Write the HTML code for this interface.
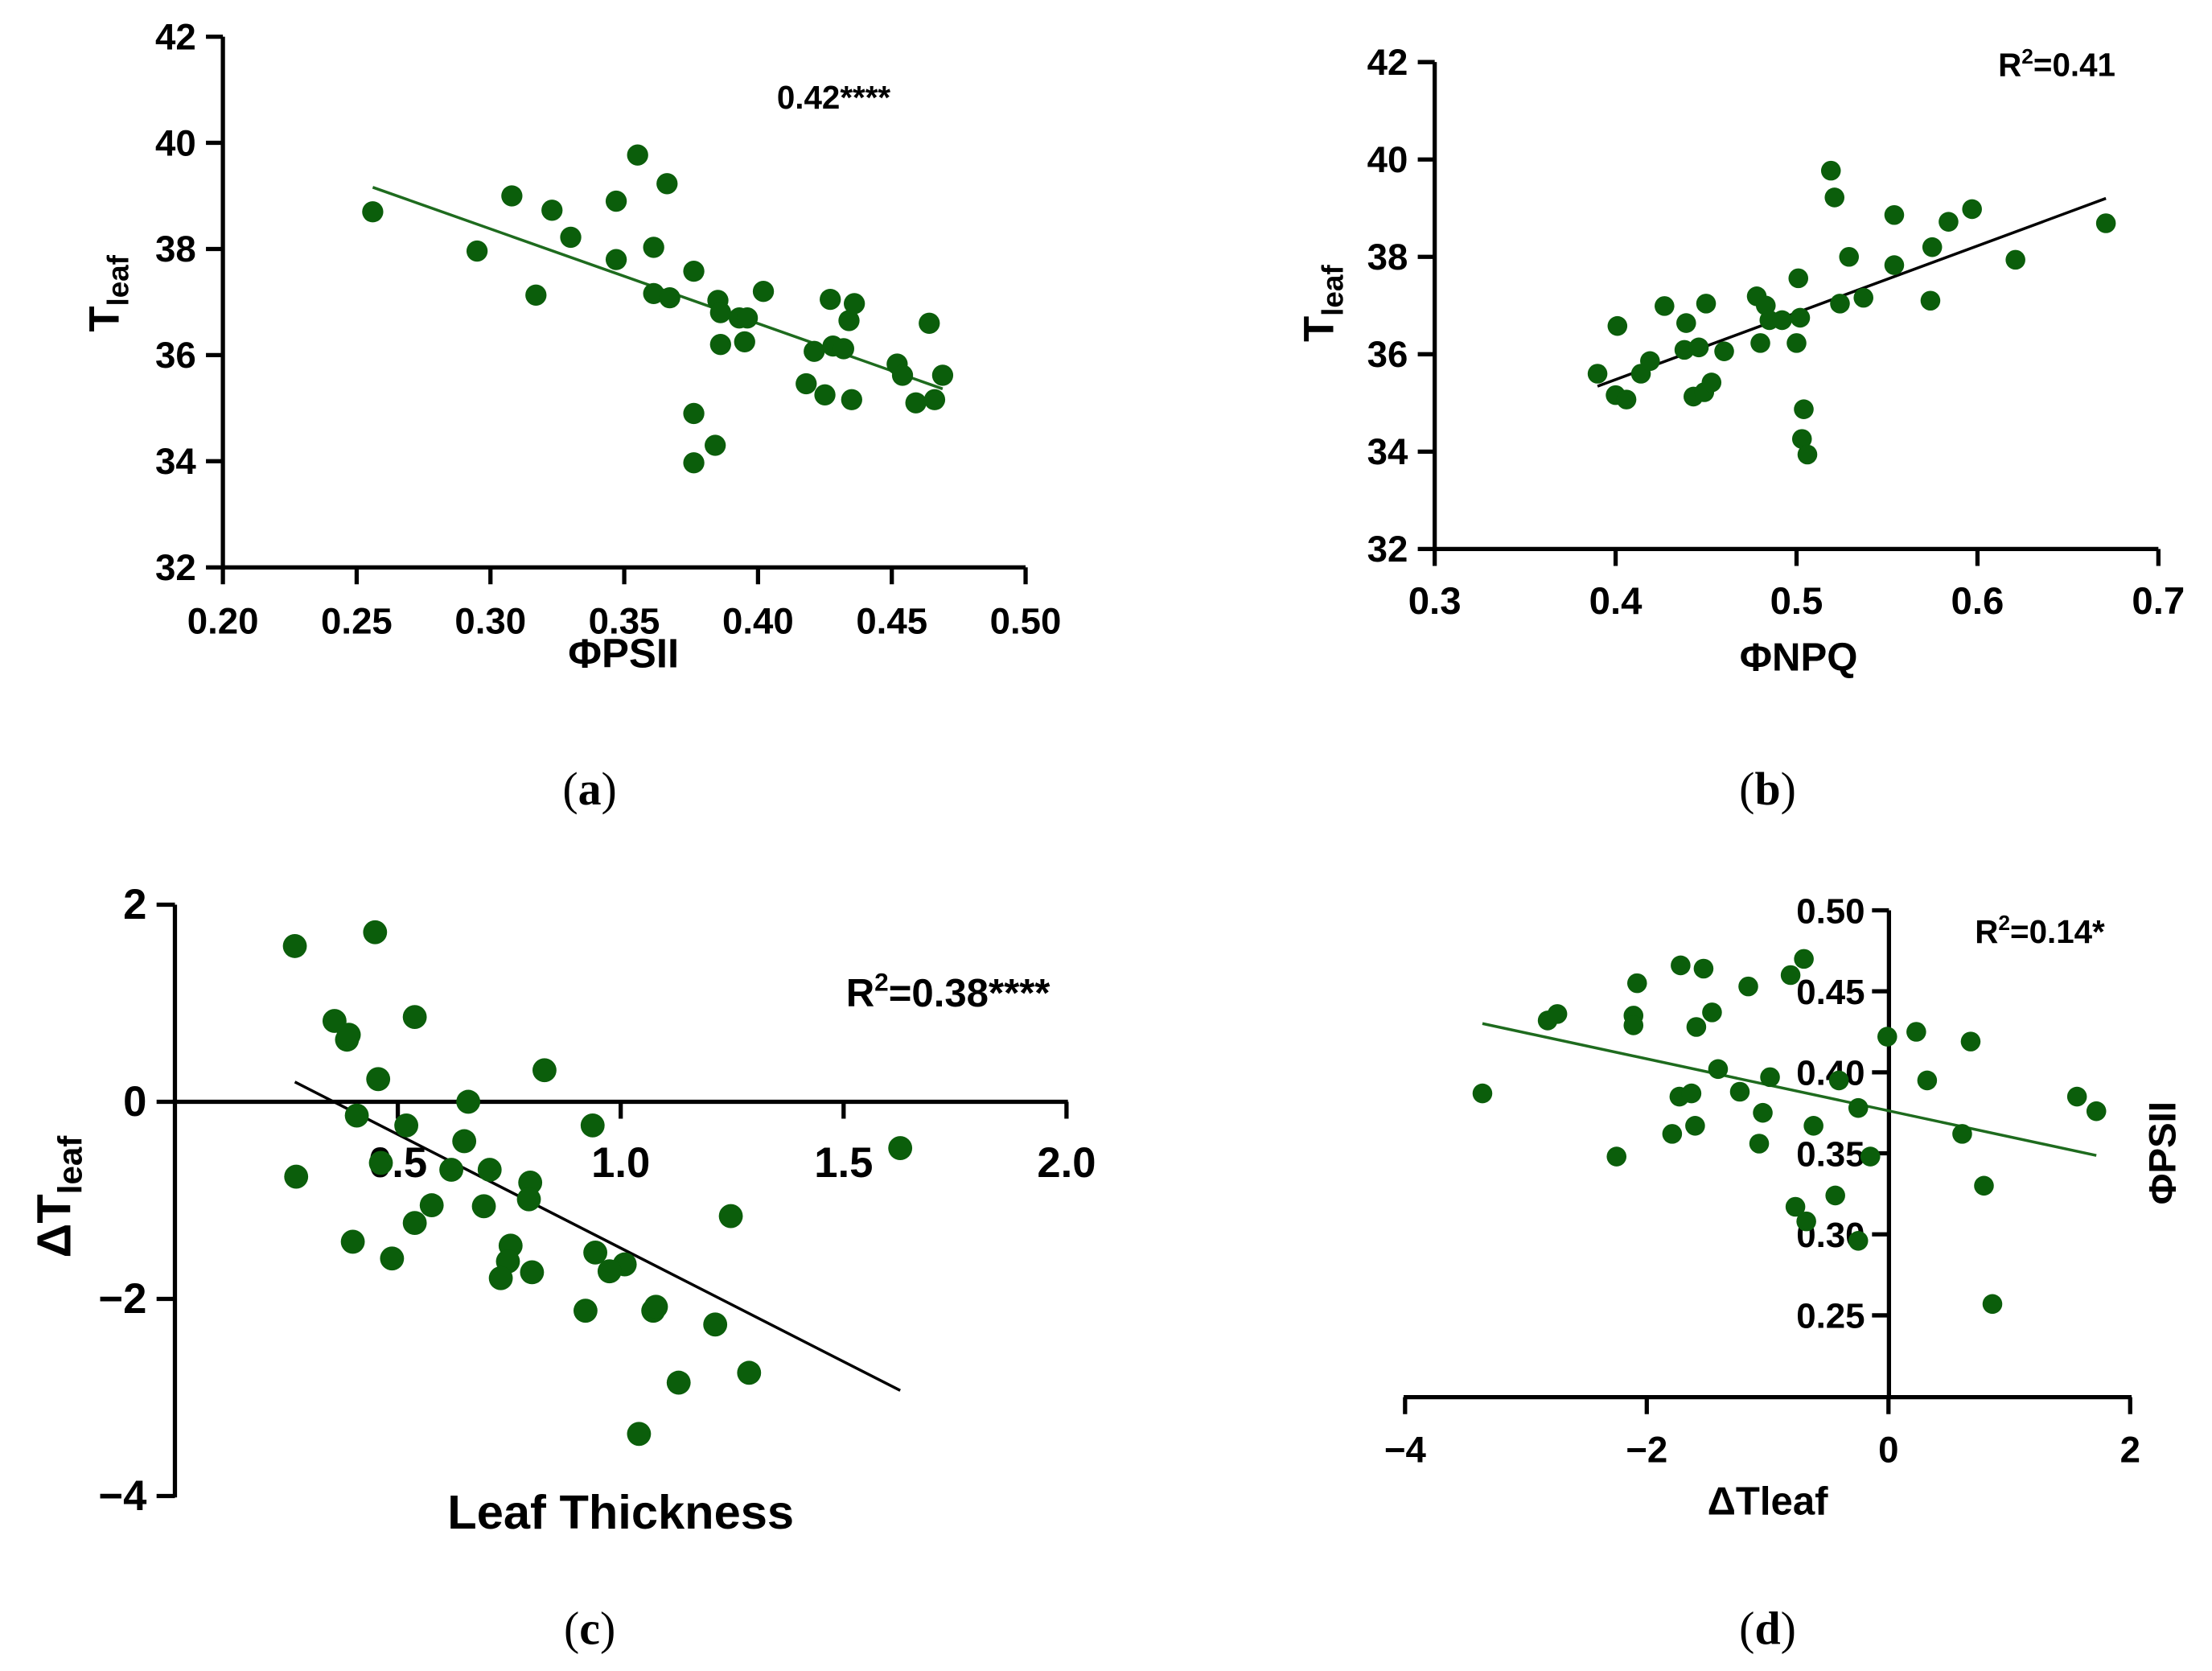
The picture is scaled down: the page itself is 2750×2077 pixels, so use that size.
<!DOCTYPE html>
<html><head><meta charset="utf-8"><style>
html,body{margin:0;padding:0;background:#fff}
svg{display:block}
text{font-family:"Liberation Sans",Arial,sans-serif;font-weight:bold;fill:#000}
.cap{font-family:"Liberation Serif",serif;font-weight:normal;font-size:33px}
</style></head><body>
<svg id="fig" xmlns="http://www.w3.org/2000/svg" width="2750" height="2077" viewBox="0 0 1568 1184" preserveAspectRatio="none"></svg>
<script>
const aX=[0.256,0.295,0.308,0.317,0.323,0.330,0.347,0.347,0.355,0.361,0.361,0.366,0.367,0.376,0.376,0.376,0.384,0.385,0.386,0.386,0.393,0.395,0.396,0.402,0.418,0.421,0.425,0.427,0.428,0.432,0.434,0.435,0.436,0.452,0.454,0.459,0.464,0.466,0.469];
const aY=[38.7,37.96,39.0,37.13,38.73,38.22,38.9,37.8,39.77,38.03,37.16,39.23,37.08,37.58,34.9,33.97,34.3,37.03,36.2,36.8,36.7,36.25,36.7,37.2,35.46,36.07,35.25,37.05,36.17,36.12,36.65,35.16,36.97,35.83,35.62,35.1,36.6,35.16,35.62];
const bX=[0.390,0.401,0.400,0.406,0.414,0.419,0.427,0.438,0.439,0.443,0.446,0.449,0.450,0.453,0.460,0.478,0.480,0.483,0.485,0.492,0.500,0.501,0.502,0.504,0.503,0.506,0.519,0.521,0.524,0.529,0.537,0.554,0.554,0.574,0.575,0.584,0.597,0.621,0.671];
const bY=[35.6,36.58,35.16,35.07,35.6,35.86,36.99,36.09,36.64,35.13,36.14,35.22,37.04,35.42,36.06,37.19,36.23,37.0,36.7,36.7,36.23,37.56,36.75,34.87,34.26,33.94,39.77,39.22,37.04,38.0,37.16,38.86,37.83,37.1,38.2,38.72,38.98,37.94,38.69];
const cX=[0.269,0.449,0.358,0.386,0.390,0.538,0.456,0.829,0.658,0.272,0.408,0.519,0.462,0.649,0.937,1.627,0.620,0.706,0.797,0.794,0.576,0.693,0.538,0.399,0.487,0.753,0.747,0.731,0.801,0.943,1.009,0.975,1.247,0.921,1.073,1.079,1.212,1.130,1.288,1.041];
const cY=[1.58,1.72,0.82,0.63,0.68,0.86,0.23,0.32,0.0,-0.76,-0.14,-0.24,-0.62,-0.40,-0.24,-0.47,-0.69,-0.69,-0.82,-0.99,-1.05,-1.06,-1.23,-1.42,-1.59,-1.46,-1.62,-1.79,-1.73,-1.53,-1.65,-1.72,-1.16,-2.12,-2.12,-2.08,-2.26,-2.85,-2.75,-3.37];
const dX=[-3.36,-2.82,-2.74,-2.25,-2.11,-2.11,-2.08,-1.79,-1.72,-1.73,-1.63,-1.60,-1.59,-1.53,-1.46,-1.41,-1.23,-1.16,-1.07,-1.04,-0.98,-0.81,-0.77,-0.70,-0.68,-0.62,-0.41,-0.44,-0.25,-0.25,-0.15,-0.01,0.23,0.32,0.61,0.68,0.79,0.86,1.56,1.72];
const dY=[0.387,0.432,0.436,0.348,0.435,0.429,0.455,0.362,0.466,0.385,0.387,0.367,0.428,0.464,0.437,0.402,0.388,0.453,0.356,0.375,0.397,0.460,0.317,0.470,0.308,0.367,0.395,0.324,0.378,0.296,0.348,0.422,0.425,0.395,0.362,0.419,0.330,0.257,0.385,0.376];
const aXT=["0.20","0.25","0.30","0.35","0.40","0.45","0.50"];
const aYT=["32","34","36","38","40","42"];
const bXT=["0.3","0.4","0.5","0.6","0.7"];
const cXT=["0.5","1.0","1.5","2.0"];
const cYT=["−4","−2","0","2"];
const dXT=["−4","−2","0","2"];
const dYT=["0.25","0.30","0.35","0.40","0.45","0.50"];

const NS="http://www.w3.org/2000/svg";
const svg=document.getElementById('fig');
function mk(tag,attrs,parent){const e=document.createElementNS(NS,tag);for(const k in attrs)e.setAttribute(k,attrs[k]);(parent||svg).appendChild(e);return e;}
function txt(s,attrs,parent){const e=mk('text',attrs,parent);e.textContent=s;return e;}
function lin(x0,x1,p0,p1){return v=>p0+(v-x0)/(x1-x0)*(p1-p0);}
function fit(X,Y){const n=X.length;let mx=0,my=0;for(let i=0;i<n;i++){mx+=X[i];my+=Y[i];}mx/=n;my/=n;let sxy=0,sxx=0;for(let i=0;i<n;i++){sxy+=(X[i]-mx)*(Y[i]-my);sxx+=(X[i]-mx)**2;}const b=sxy/sxx;return [b,my-b*mx];}
const GREEN="#0b5e0b";

function dots(g,X,Y,sx,sy,r,name){for(let i=0;i<X.length;i++){const c=mk('circle',{cx:sx(X[i]),cy:sy(Y[i]),r:r,fill:GREEN},g);

}}
function fitline(g,X,Y,sx,sy,col,name){const [b,a]=fit(X,Y);const x0=Math.min(...X),x1=Math.max(...X);const l=mk('line',{x1:sx(x0),y1:sy(a+b*x0),x2:sx(x1),y2:sy(a+b*x1),stroke:col,'stroke-width':2},g);

}
function group(name){const g=mk('g',{});

return g;}
function caption(g,letter,x,y){const c=txt('',{x:x,y:y,'text-anchor':'middle',class:'cap'},g);c.innerHTML='(<tspan font-weight="bold">'+letter+'</tspan>)';
}

// Panel a
(function(){const g=group('panel-a');
const sx=lin(0.2,0.5,158,727), sy=lin(32,42,402,26);
mk('line',{x1:158,y1:26,x2:158,y2:403,stroke:'#000','stroke-width':3},g);
mk('line',{x1:157,y1:402,x2:727,y2:402,stroke:'#000','stroke-width':3},g);
aXT.forEach(t=>{const x=sx(+t);mk('line',{x1:x,y1:402,x2:x,y2:414,stroke:'#000','stroke-width':3},g);const e=txt(t,{x:x,y:449,'font-size':26,'text-anchor':'middle'},g);
});
aYT.forEach(t=>{const y=sy(+t);mk('line',{x1:146,y1:y,x2:158,y2:y,stroke:'#000','stroke-width':3},g);const e=txt(t,{x:139,y:y+9,'font-size':26,'text-anchor':'end'},g);
});
fitline(g,aX,aY,sx,sy,'#1e6b1e','a');
dots(g,aX,aY,sx,sy,7.5,'a');
const t1=txt('',{x:0,y:0,'font-size':30,transform:'translate(84,208) rotate(-90)','text-anchor':'middle'},g);t1.innerHTML='T<tspan font-size="21" dy="7">leaf</tspan>';

const t2=txt('ΦPSII',{x:442,y:473,'font-size':29,'text-anchor':'middle'},g);
const t3=txt('0.42****',{x:591,y:77,'font-size':23,'text-anchor':'middle'},g);
caption(g,'a',418,570);
})();

// Panel b
(function(){const g=group('panel-b');
const sx=lin(0.3,0.7,1017,1530), sy=lin(32,42,389,44);
mk('line',{x1:1017,y1:44,x2:1017,y2:390,stroke:'#000','stroke-width':3},g);
mk('line',{x1:1016,y1:389,x2:1530,y2:389,stroke:'#000','stroke-width':3},g);
bXT.forEach(t=>{const x=sx(+t);mk('line',{x1:x,y1:389,x2:x,y2:401,stroke:'#000','stroke-width':3},g);const e=txt(t,{x:x,y:435,'font-size':27,'text-anchor':'middle','font-weight':'normal'},g);
});
aYT.forEach(t=>{const y=sy(+t);mk('line',{x1:1005,y1:y,x2:1017,y2:y,stroke:'#000','stroke-width':3},g);const e=txt(t,{x:998,y:y+9,'font-size':26,'text-anchor':'end','font-weight':'normal'},g);
});
fitline(g,bX,bY,sx,sy,'#000','b');
dots(g,bX,bY,sx,sy,7,'b');
const t1=txt('',{x:0,y:0,'font-size':30,transform:'translate(945,215) rotate(-90)','text-anchor':'middle'},g);t1.innerHTML='T<tspan font-size="21" dy="7">leaf</tspan>';

const t2=txt('ΦNPQ',{x:1275,y:475,'font-size':28,'text-anchor':'middle'},g);
const t3=txt('',{x:1458,y:54,'font-size':23,'text-anchor':'middle'},g);t3.innerHTML='R<tspan font-size="15" dy="-9">2</tspan><tspan dy="9">=0.41</tspan>';
caption(g,'b',1253,570);
})();

// Panel c
(function(){const g=group('panel-c');
const sx=lin(0,2,124,756), sy=lin(-4,2,1060,641);
mk('line',{x1:124,y1:641,x2:124,y2:1061,stroke:'#000','stroke-width':3},g);
mk('line',{x1:124,y1:sy(0),x2:757,y2:sy(0),stroke:'#000','stroke-width':3},g);
cXT.forEach(t=>{const x=sx(+t);mk('line',{x1:x,y1:sy(0),x2:x,y2:sy(0)+12,stroke:'#000','stroke-width':3},g);const e=txt(t,{x:x,y:834,'font-size':30,'text-anchor':'middle'},g);
});
cYT.forEach(t=>{const y=sy(+t.replace('−','-'));mk('line',{x1:111,y1:y,x2:124,y2:y,stroke:'#000','stroke-width':3},g);const e=txt(t,{x:104,y:y+10,'font-size':30,'text-anchor':'end'},g);
});
fitline(g,cX,cY,sx,sy,'#000','c');
dots(g,cX,cY,sx,sy,8.5,'c');
const t1=txt('',{x:0,y:0,'font-size':34,transform:'translate(50,848) rotate(-90)','text-anchor':'middle'},g);t1.innerHTML='ΔT<tspan font-size="24" dy="8">leaf</tspan>';

const t2=txt('Leaf Thickness',{x:440,y:1083,'font-size':34,'text-anchor':'middle'},g);
const t3=txt('',{x:672,y:713,'font-size':28,'text-anchor':'middle'},g);t3.innerHTML='R<tspan font-size="18" dy="-11">2</tspan><tspan dy="11">=0.38****</tspan>';
caption(g,'c',418,1165);
})();

// Panel d
(function(){const g=group('panel-d');
const sx=lin(-4,2,996,1510), sy=lin(0.25,0.5,932,645);
mk('line',{x1:1339,y1:645,x2:1339,y2:990,stroke:'#000','stroke-width':3},g);
mk('line',{x1:995,y1:990,x2:1511,y2:990,stroke:'#000','stroke-width':3},g);
dXT.forEach(t=>{const x=sx(+t.replace('−','-'));mk('line',{x1:x,y1:990,x2:x,y2:1002,stroke:'#000','stroke-width':3},g);const e=txt(t,{x:x,y:1036,'font-size':26,'text-anchor':'middle','font-weight':'normal'},g);
});
dYT.forEach(t=>{const y=sy(+t);mk('line',{x1:1327,y1:y,x2:1339,y2:y,stroke:'#000','stroke-width':3},g);const e=txt(t,{x:1322,y:y+9,'font-size':25,'text-anchor':'end'},g);
});
fitline(g,dX,dY,sx,sy,'#1e6b1e','d');
dots(g,dX,dY,sx,sy,7,'d');
const t1=txt('ΦPSII',{x:0,y:0,'font-size':27,transform:'translate(1542,817) rotate(-90)','text-anchor':'middle'},g);

const t2=txt('ΔTleaf',{x:1253,y:1073,'font-size':28,'text-anchor':'middle'},g);
const t3=txt('',{x:1446,y:668,'font-size':23,'text-anchor':'middle'},g);t3.innerHTML='R<tspan font-size="15" dy="-9">2</tspan><tspan dy="9">=0.14*</tspan>';
caption(g,'d',1253,1165);
})();
</script>
</body></html>
